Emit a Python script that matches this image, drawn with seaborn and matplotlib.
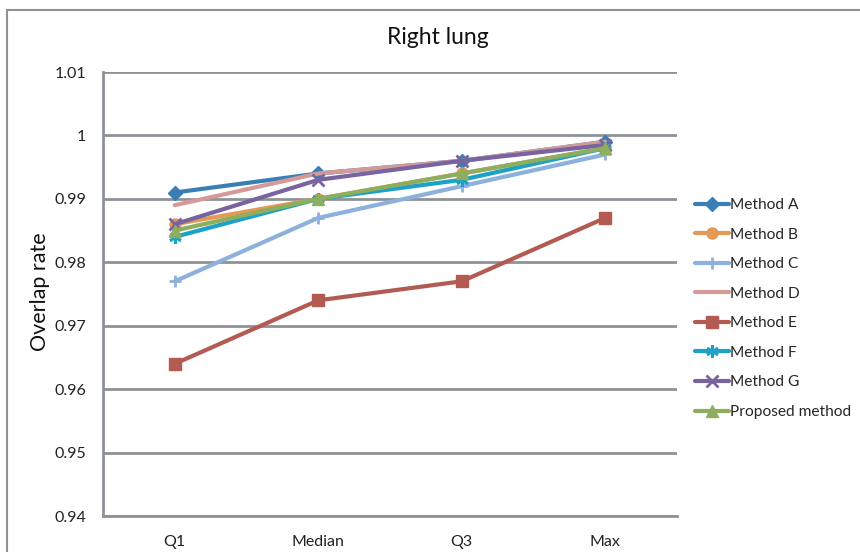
import matplotlib
matplotlib.use("Agg")
import matplotlib.pyplot as plt
import seaborn as sns
import numpy as np
from matplotlib.patches import Rectangle

categories = ["Q1", "Median", "Q3", "Max"]
method_a = [0.991, 0.994, 0.996, 0.999]
method_b = [0.986, 0.990, 0.994, 0.998]
method_c = [0.977, 0.987, 0.992, 0.997]
method_d = [0.989, 0.994, 0.996, 0.999]
method_e = [0.964, 0.974, 0.977, 0.987]
method_f = [0.984, 0.990, 0.993, 0.998]
method_g = [0.986, 0.993, 0.996, 0.9985]
proposed = [0.985, 0.990, 0.994, 0.998]
series_names = ["Method A", "Method B", "Method C", "Method D", "Method E",
                "Method F", "Method G", "Proposed method"]
y_ticks = [0.94, 0.95, 0.96, 0.97, 0.98, 0.99, 1.00, 1.01]
y_tick_labels = ["0.94", "0.95", "0.96", "0.97", "0.98", "0.99", "1", "1.01"]

series = [method_a, method_b, method_c, method_d, method_e, method_f, method_g, proposed]
colors = ["#3A7EB6", "#E29A55", "#8DB1DC", "#D59A98", "#B35B52",
          "#1BA2C6", "#7764A0", "#8DAE5E"]
markers = ["D", "o", "+", None, "s", (6, 2, 0), "x", "^"]
msizes = [7, 8, 9, 0, 9, 9, 8, 9]

sns.set_style("white")
plt.rcParams["font.family"] = ["Lato", "DejaVu Sans"]

fig = plt.figure(figsize=(8.6, 5.52), dpi=100)
ax = fig.add_axes([103 / 860, 36 / 552, 574 / 860, 444 / 552])

grid_col = "#8E9297"
for name, vals, col, mk, ms in zip(series_names, series, colors, markers, msizes):
    kw = dict(marker=mk, markersize=ms, markeredgewidth=2 if mk in ("+", "x", (6, 2, 0)) else 1,
              markeredgecolor=col, markerfacecolor=col) if mk is not None else dict(marker=None)
    sns.lineplot(x=categories, y=vals, ax=ax, color=col, linewidth=3, sort=False,
                 label=name, **kw)

ax.set_ylim(0.94, 1.01)
ax.set_xlim(-0.5, 3.5)
ax.set_yticks(y_ticks)
ax.set_yticklabels(y_tick_labels)
ax.yaxis.grid(True, color=grid_col, linewidth=2)
ax.set_axisbelow(True)
for s in ["top", "right"]:
    ax.spines[s].set_visible(False)
for s in ["left", "bottom"]:
    ax.spines[s].set_color(grid_col)
    ax.spines[s].set_linewidth(2)
ax.tick_params(axis="both", length=0, labelsize=11.5, colors="#222222", pad=14)
ax.tick_params(axis="y", pad=12)
ax.set_xlabel("")
ax.set_ylabel("")
fig.text(40 / 860, 1 - 292 / 552, "Overlap rate", rotation=90, ha="center", va="center",
         fontsize=15.5, color="#111111")
fig.text(438 / 860, 1 - 38 / 552, "Right lung", ha="center", va="center",
         fontsize=16.5, color="#111111")

leg = ax.legend(loc="upper left", bbox_to_anchor=(1.02, 0.73), frameon=False,
                fontsize=11.2, handlelength=2.2, labelspacing=1.0, handletextpad=0.1,
                borderaxespad=0)

fig.patches.append(Rectangle((7 / 860, -0.1), 1.2, (552 - 10) / 552 + 0.1,
                             transform=fig.transFigure, fill=False,
                             edgecolor=grid_col, linewidth=1.5))

fig.savefig("out.png", dpi=100)
